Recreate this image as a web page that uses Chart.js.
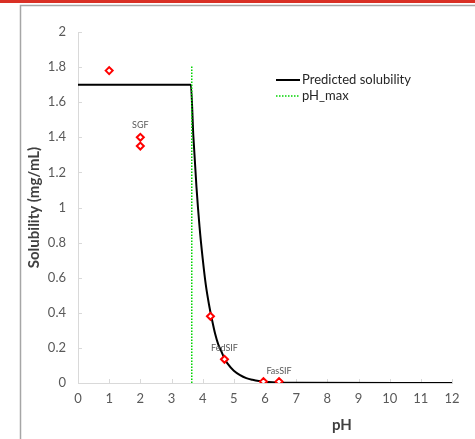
<!DOCTYPE html>
<html>
<head>
<meta charset="utf-8">
<script src="https://cdn.jsdelivr.net/npm/chart.js@4"></script>
<style>
  html, body { margin: 0; padding: 0; background: #fff; }
  canvas { display: block; }
</style>
</head>
<body>
<canvas id="chart" width="475" height="439"></canvas>
<script>
// predicted solubility curve
const curvePH = [0, 3.62, 3.7, 3.8, 3.9, 4.0, 4.1, 4.2, 4.3, 4.4, 4.5, 4.6, 4.7, 4.8, 5.0, 5.2, 5.4, 5.6, 5.8, 6.0, 6.5, 7.0, 12];
const curveSol = [1.7, 1.7, 1.41, 1.12, 0.89, 0.71, 0.56, 0.45, 0.36, 0.28, 0.22, 0.18, 0.14, 0.11, 0.07, 0.045, 0.028, 0.018, 0.011, 0.007, 0.002, 0.001, 0];

// measured points
const measPH = [1, 2, 2, 4.25, 4.7, 5.95, 6.45];
const measSol = [1.78, 1.40, 1.35, 0.38, 0.135, 0.008, 0.008];

const phMax = 3.65;
const phMaxTop = 1.81;

// media labels
const mediaNames = ['SGF', 'FedSIF', 'FasSIF'];
const mediaPH = [2.0, 4.7, 6.45];
const mediaSol = [1.47, 0.2, 0.07];

const FONT = 'Lato, "Open Sans", sans-serif';

const frame = {
  id: 'frame',
  beforeDraw(chart) {
    const c = chart.ctx;
    c.save();
    c.fillStyle = '#fff';
    c.fillRect(0, 0, chart.width, chart.height);
    c.fillStyle = '#d93025';
    c.fillRect(0, 0, chart.width, 3);
    c.strokeStyle = '#a6a6a6';
    c.lineWidth = 1.5;
    c.beginPath();
    c.moveTo(20.5, chart.height);
    c.lineTo(20.5, 5.5);
    c.lineTo(chart.width, 5.5);
    c.stroke();
    c.restore();
  }
};

const extras = {
  id: 'extras',
  beforeDatasetsDraw(chart) {
    const c = chart.ctx;
    const xs = chart.scales.x, ys = chart.scales.y;
    c.save();
    c.strokeStyle = '#d9d9d9';
    c.lineWidth = 1;
    c.beginPath();
    xs.ticks.forEach(t => {
      const px = Math.round(xs.getPixelForValue(t.value)) + 0.5;
      c.moveTo(px, ys.bottom);
      c.lineTo(px, ys.bottom - 4);
    });
    ys.ticks.forEach(t => {
      const py = Math.round(ys.getPixelForValue(t.value)) + 0.5;
      c.moveTo(xs.left, py);
      c.lineTo(xs.left + 4, py);
    });
    c.stroke();
    c.restore();
  },
  afterDraw(chart) {
    const c = chart.ctx;
    const xs = chart.scales.x, ys = chart.scales.y;
    c.save();
    // media labels
    c.fillStyle = '#595959';
    c.font = '9px ' + FONT;
    c.textAlign = 'center';
    c.textBaseline = 'middle';
    mediaNames.forEach((n, i) => {
      c.fillText(n, xs.getPixelForValue(mediaPH[i]), ys.getPixelForValue(mediaSol[i]));
    });
    // legend
    const lx = 276, ly = 80;
    c.lineWidth = 2;
    c.strokeStyle = '#000';
    c.beginPath();
    c.moveTo(lx, ly);
    c.lineTo(lx + 24, ly);
    c.stroke();
    c.strokeStyle = '#00d400';
    c.lineWidth = 1.5;
    c.setLineDash([1.5, 1.5]);
    c.beginPath();
    c.moveTo(lx, ly + 16);
    c.lineTo(lx + 24, ly + 16);
    c.stroke();
    c.setLineDash([]);
    c.fillStyle = '#262626';
    c.font = '13px ' + FONT;
    c.textAlign = 'left';
    c.fillText('Predicted solubility', lx + 26, ly);
    c.fillText('pH_max', lx + 26, ly + 16);
    // x title
    c.font = 'bold 15px ' + FONT;
    c.fillStyle = '#404040';
    c.textAlign = 'center';
    c.fillText('pH', 342, 425);
    c.restore();
  }
};

new Chart(document.getElementById('chart'), {
  type: 'scatter',
  data: {
    datasets: [
      {
        label: 'Measured',
        data: measPH.map((x, i) => ({ x: x, y: measSol[i] })),
        pointStyle: 'rectRot',
        pointRadius: 3.5,
        borderColor: '#ff0000',
        backgroundColor: '#ffffff',
        borderWidth: 2,
        order: 0
      },
      {
        label: 'Predicted solubility',
        type: 'line',
        data: curvePH.map((x, i) => ({ x: x, y: curveSol[i] })),
        borderColor: '#000',
        borderWidth: 2,
        pointRadius: 0,
        tension: 0.3,
        cubicInterpolationMode: 'monotone',
        fill: false,
        order: 2
      },
      {
        label: 'pH_max',
        type: 'line',
        data: [{ x: phMax, y: 0 }, { x: phMax, y: phMaxTop }],
        borderColor: '#00d400',
        borderWidth: 1.5,
        borderDash: [1.5, 1.5],
        pointRadius: 0,
        fill: false,
        order: 1
      }
    ]
  },
  options: {
    responsive: false,
    animation: false,
    layout: { padding: { left: 20, top: 32, right: 23, bottom: 0 } },
    plugins: {
      legend: { display: false },
      tooltip: { enabled: false }
    },
    scales: {
      x: {
        type: 'linear',
        min: 0,
        max: 12,
        afterFit: s => { s.height = 56; },
        ticks: { stepSize: 1, color: '#595959', padding: 8, font: { family: FONT, size: 13 } },
        grid: { display: false, drawTicks: false },
        border: { color: '#d9d9d9' }
      },
      y: {
        min: 0,
        max: 2,
        afterFit: s => { s.width = 58; },
        ticks: {
          stepSize: 0.2,
          color: '#595959',
          padding: 12,
          font: { family: FONT, size: 13 },
          callback: v => Math.round(v * 10) / 10
        },
        title: {
          display: true,
          text: 'Solubility (mg/mL)',
          color: '#404040',
          font: { family: FONT, size: 15, weight: 'bold' },
          padding: { top: 5, bottom: 0 }
        },
        grid: { display: false, drawTicks: false },
        border: { color: '#d9d9d9' }
      }
    }
  },
  plugins: [frame, extras]
});
</script>
</body>
</html>
